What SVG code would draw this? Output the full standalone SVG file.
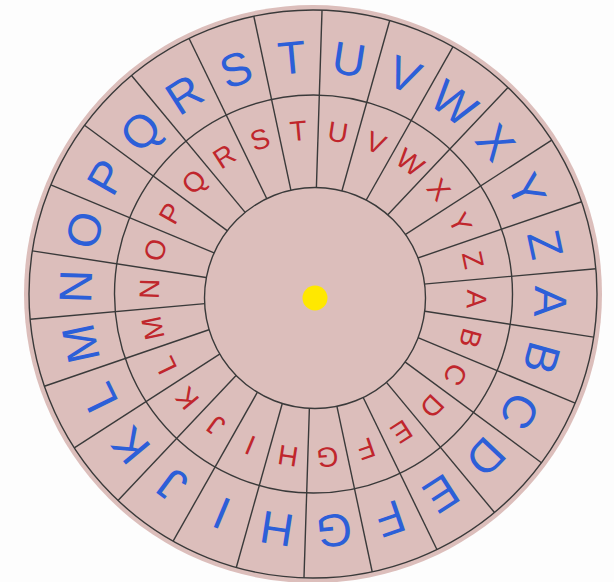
<svg xmlns="http://www.w3.org/2000/svg" width="614" height="582" viewBox="0 0 614 582">
<style>
.ln{stroke:#3a3a3a;stroke-width:1.4;fill:none}
.o{font-family:"Liberation Sans",Arial,sans-serif;font-size:46px;fill:#2c5fd8;text-anchor:middle}
.i{font-family:"Liberation Sans",Arial,sans-serif;font-size:28px;fill:#c0262c;text-anchor:middle}
</style>
<defs>
<line id="r" x1="313" y1="194" x2="313" y2="10" class="ln"/>
</defs>
<rect width="614" height="582" fill="#fdfdfd"/>
<g id="wheel">
<circle cx="313" cy="294" r="289" fill="#dcbebb"/>
<circle cx="313" cy="294" r="284" class="ln"/>
<circle cx="313.5" cy="294" r="199" class="ln"/>
</g>
<g id="spokes">
<use href="#r" transform="rotate(1.82 313 294)"/>
<use href="#r" transform="rotate(15.67 313 294)"/>
<use href="#r" transform="rotate(29.51 313 294)"/>
<use href="#r" transform="rotate(43.36 313 294)"/>
<use href="#r" transform="rotate(57.2 313 294)"/>
<use href="#r" transform="rotate(71.05 313 294)"/>
<use href="#r" transform="rotate(84.9 313 294)"/>
<use href="#r" transform="rotate(98.74 313 294)"/>
<use href="#r" transform="rotate(112.59 313 294)"/>
<use href="#r" transform="rotate(126.44 313 294)"/>
<use href="#r" transform="rotate(140.28 313 294)"/>
<use href="#r" transform="rotate(154.13 313 294)"/>
<use href="#r" transform="rotate(167.97 313 294)"/>
<use href="#r" transform="rotate(181.82 313 294)"/>
<use href="#r" transform="rotate(195.67 313 294)"/>
<use href="#r" transform="rotate(209.51 313 294)"/>
<use href="#r" transform="rotate(223.36 313 294)"/>
<use href="#r" transform="rotate(237.2 313 294)"/>
<use href="#r" transform="rotate(251.05 313 294)"/>
<use href="#r" transform="rotate(264.9 313 294)"/>
<use href="#r" transform="rotate(278.74 313 294)"/>
<use href="#r" transform="rotate(292.59 313 294)"/>
<use href="#r" transform="rotate(306.44 313 294)"/>
<use href="#r" transform="rotate(320.28 313 294)"/>
<use href="#r" transform="rotate(334.13 313 294)"/>
<use href="#r" transform="rotate(347.97 313 294)"/>
</g>
<g id="hub">
<circle cx="315" cy="298" r="110.5" fill="#dcbebb" stroke="#3a3a3a" stroke-width="1.4"/>
<circle cx="315" cy="298" r="12.5" fill="#ffe800"/>
</g>
<g id="outer-letters">
<text class="o" x="313" y="72.5" transform="rotate(91.82 313 294)">A</text>
<text class="o" x="313" y="72.5" transform="rotate(105.67 313 294)">B</text>
<text class="o" x="313" y="72.5" transform="rotate(119.52 313 294)">C</text>
<text class="o" x="313" y="72.5" transform="rotate(133.36 313 294)">D</text>
<text class="o" x="313" y="72.5" transform="rotate(147.21 313 294)">E</text>
<text class="o" x="313" y="72.5" transform="rotate(161.05 313 294)">F</text>
<text class="o" x="313" y="72.5" transform="rotate(174.9 313 294)">G</text>
<text class="o" x="313" y="72.5" transform="rotate(188.75 313 294)">H</text>
<text class="o" x="313" y="72.5" transform="rotate(-157.41 313 294)">I</text>
<text class="o" x="313" y="72.5" transform="rotate(-143.56 313 294)">J</text>
<text class="o" x="313" y="72.5" transform="rotate(-129.72 313 294)">K</text>
<text class="o" x="313" y="72.5" transform="rotate(-115.87 313 294)">L</text>
<text class="o" x="313" y="72.5" transform="rotate(-102.02 313 294)">M</text>
<text class="o" x="313" y="72.5" transform="rotate(-88.18 313 294)">N</text>
<text class="o" x="313" y="72.5" transform="rotate(-74.33 313 294)">O</text>
<text class="o" x="313" y="72.5" transform="rotate(-60.48 313 294)">P</text>
<text class="o" x="313" y="72.5" transform="rotate(-46.64 313 294)">Q</text>
<text class="o" x="313" y="72.5" transform="rotate(-32.79 313 294)">R</text>
<text class="o" x="313" y="72.5" transform="rotate(-18.95 313 294)">S</text>
<text class="o" x="313" y="72.5" transform="rotate(-5.1 313 294)">T</text>
<text class="o" x="313" y="72.5" transform="rotate(8.75 313 294)">U</text>
<text class="o" x="313" y="72.5" transform="rotate(22.59 313 294)">V</text>
<text class="o" x="313" y="72.5" transform="rotate(36.44 313 294)">W</text>
<text class="o" x="313" y="72.5" transform="rotate(50.28 313 294)">X</text>
<text class="o" x="313" y="72.5" transform="rotate(64.13 313 294)">Y</text>
<text class="o" x="313" y="72.5" transform="rotate(77.98 313 294)">Z</text>
</g>
<g id="inner-letters">
<text class="i" x="313" y="140" transform="rotate(91.82 313 294)">A</text>
<text class="i" x="313" y="140" transform="rotate(105.67 313 294)">B</text>
<text class="i" x="313" y="140" transform="rotate(119.52 313 294)">C</text>
<text class="i" x="313" y="140" transform="rotate(133.36 313 294)">D</text>
<text class="i" x="313" y="140" transform="rotate(147.21 313 294)">E</text>
<text class="i" x="313" y="140" transform="rotate(161.05 313 294)">F</text>
<text class="i" x="313" y="140" transform="rotate(174.9 313 294)">G</text>
<text class="i" x="313" y="140" transform="rotate(188.75 313 294)">H</text>
<text class="i" x="313" y="140" transform="rotate(-157.41 313 294)">I</text>
<text class="i" x="313" y="140" transform="rotate(-143.56 313 294)">J</text>
<text class="i" x="313" y="140" transform="rotate(-129.72 313 294)">K</text>
<text class="i" x="313" y="140" transform="rotate(-115.87 313 294)">L</text>
<text class="i" x="313" y="140" transform="rotate(-102.02 313 294)">M</text>
<text class="i" x="313" y="140" transform="rotate(-88.18 313 294)">N</text>
<text class="i" x="313" y="140" transform="rotate(-74.33 313 294)">O</text>
<text class="i" x="313" y="140" transform="rotate(-60.48 313 294)">P</text>
<text class="i" x="313" y="140" transform="rotate(-46.64 313 294)">Q</text>
<text class="i" x="313" y="140" transform="rotate(-32.79 313 294)">R</text>
<text class="i" x="313" y="140" transform="rotate(-18.95 313 294)">S</text>
<text class="i" x="313" y="140" transform="rotate(-5.1 313 294)">T</text>
<text class="i" x="313" y="140" transform="rotate(8.75 313 294)">U</text>
<text class="i" x="313" y="140" transform="rotate(22.59 313 294)">V</text>
<text class="i" x="313" y="140" transform="rotate(36.44 313 294)">W</text>
<text class="i" x="313" y="140" transform="rotate(50.28 313 294)">X</text>
<text class="i" x="313" y="140" transform="rotate(64.13 313 294)">Y</text>
<text class="i" x="313" y="140" transform="rotate(77.98 313 294)">Z</text>
</g>
</svg>
